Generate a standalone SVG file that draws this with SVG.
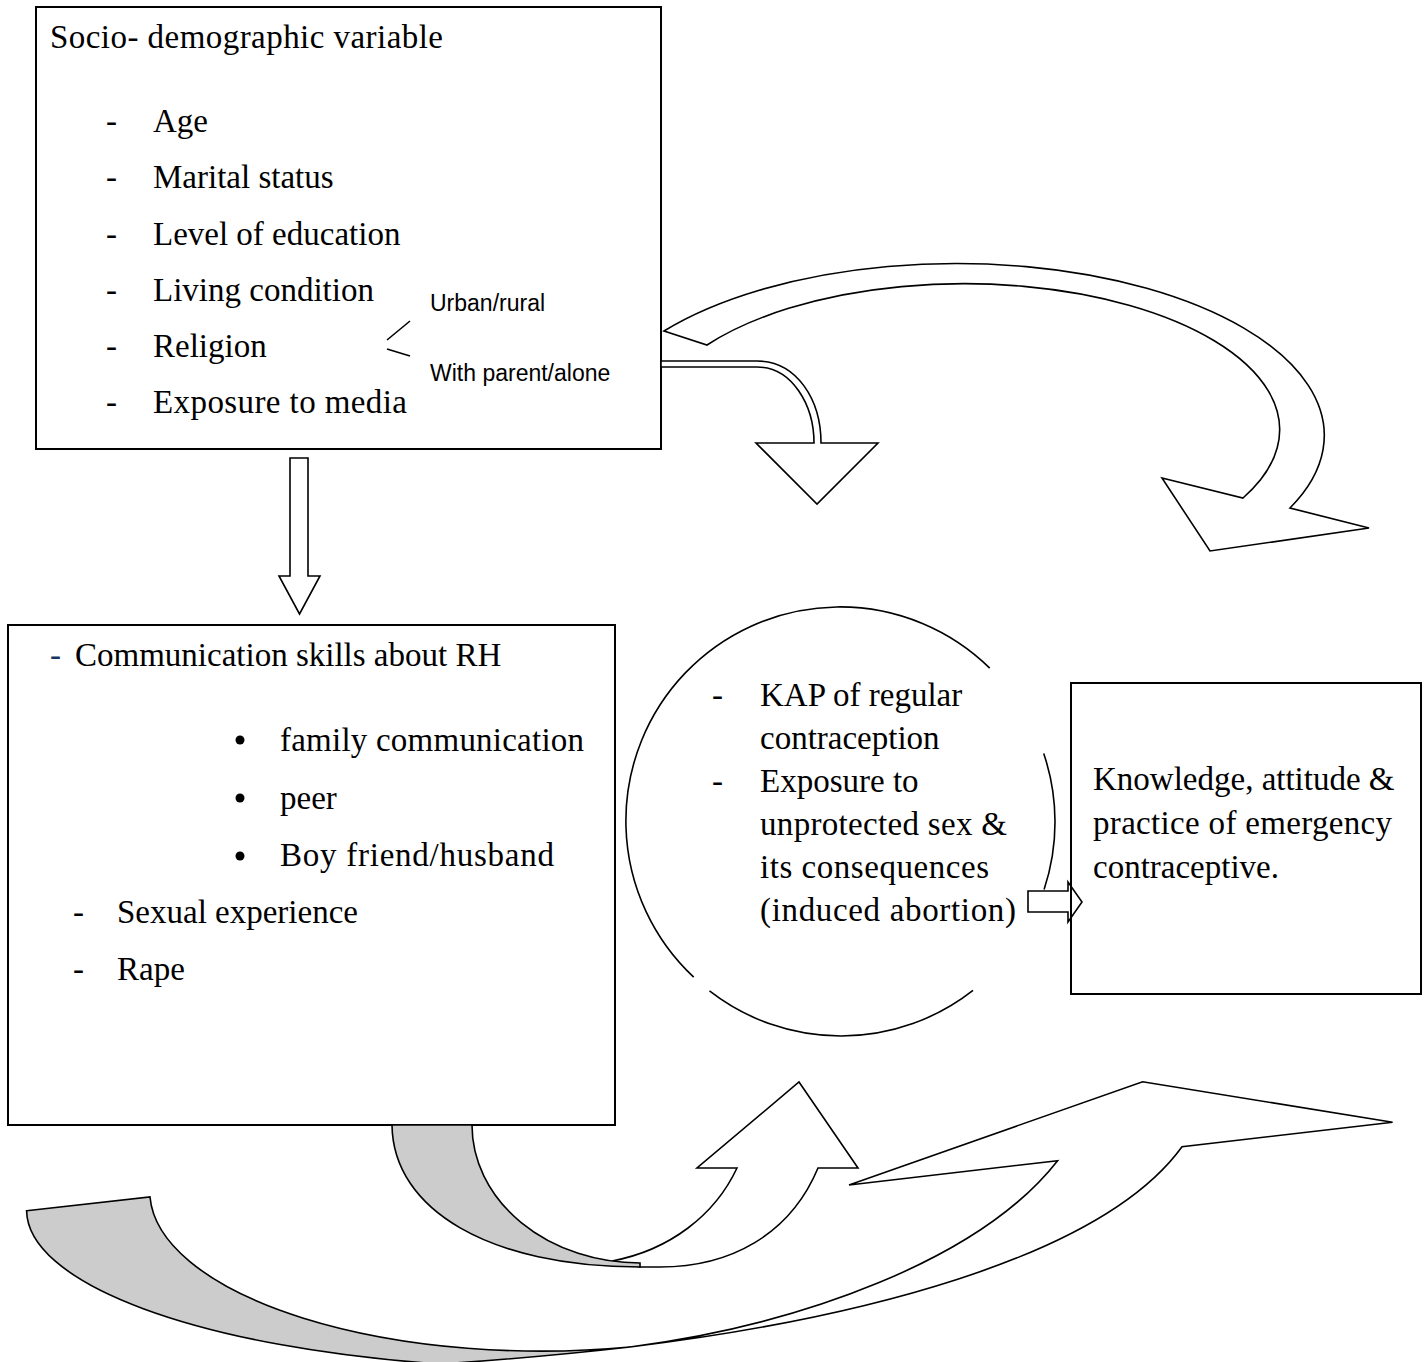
<svg xmlns="http://www.w3.org/2000/svg" width="1427" height="1362" viewBox="0 0 1427 1362">
<style>
.box{fill:#fff;stroke:#000;stroke-width:2}
.sh{fill:#fff;stroke:#000;stroke-width:1.6;stroke-linejoin:miter}
.op{fill:none;stroke:#000;stroke-width:1.6;stroke-linejoin:miter}
.gr{fill:#cccccc;stroke:#000;stroke-width:1.6}
.ln{fill:none;stroke:#000;stroke-width:1.6}
.t{font-family:"Liberation Serif","Times New Roman",serif;font-size:33px;fill:#000}
.s{font-family:"Liberation Sans",Arial,sans-serif;font-size:23px;fill:#000}
</style>
<rect width="1427" height="1362" fill="#fff"/>
<g id="socio">
  <rect class="box" x="36" y="7" width="625" height="442"/>
  <text class="t" x="50" y="48" textLength="393" lengthAdjust="spacing">Socio- demographic variable</text>
  <text class="t" x="106" y="132">-</text><text class="t" x="153" y="132">Age</text>
  <text class="t" x="106" y="188">-</text><text class="t" x="153" y="188">Marital status</text>
  <text class="t" x="106" y="245">-</text><text class="t" x="153" y="245">Level of education</text>
  <text class="t" x="106" y="301">-</text><text class="t" x="153" y="301">Living condition</text>
  <text class="t" x="106" y="357">-</text><text class="t" x="153" y="357">Religion</text>
  <text class="t" x="106" y="413">-</text><text class="t" x="153" y="413" textLength="254" lengthAdjust="spacing">Exposure to media</text>
  <line class="ln" x1="387" y1="340" x2="410" y2="321"/>
  <line class="ln" x1="387" y1="349" x2="410" y2="356"/>
  <text class="s" x="430" y="311">Urban/rural</text>
  <text class="s" x="430" y="381">With parent/alone</text>
</g>
<g id="communication">
  <rect class="box" x="8" y="625" width="607" height="500"/>
  <text class="t" x="50" y="666" style="fill:#17365d">-</text>
  <text class="t" x="75" y="666">Communication skills about RH</text>
  <circle cx="240" cy="740" r="4.5" fill="#000"/>
  <text class="t" x="280" y="751" textLength="304" lengthAdjust="spacing">family communication</text>
  <circle cx="240" cy="798" r="4.5" fill="#000"/>
  <text class="t" x="280" y="809">peer</text>
  <circle cx="240" cy="856" r="4.5" fill="#000"/>
  <text class="t" x="280" y="866" textLength="274" lengthAdjust="spacing">Boy friend/husband</text>
  <text class="t" x="73" y="923">-</text><text class="t" x="117" y="923">Sexual experience</text>
  <text class="t" x="73" y="980">-</text><text class="t" x="117" y="980">Rape</text>
</g>
<g id="kap">
  <path class="ln" d="M989.7,668.1 A214,214 0 1 0 693.7,977.2"/>
  <path class="ln" d="M1043.7,753.4 A214,214 0 0 1 1044.1,889.5"/>
  <path class="ln" d="M973,990.4 A214,214 0 0 1 709.5,990.9"/>
  <text class="t" x="712" y="706">-</text><text class="t" x="760" y="706">KAP of regular</text>
  <text class="t" x="760" y="749">contraception</text>
  <text class="t" x="712" y="792">-</text><text class="t" x="760" y="792">Exposure to</text>
  <text class="t" x="760" y="835" textLength="247" lengthAdjust="spacing">unprotected sex &amp;</text>
  <text class="t" x="760" y="878" textLength="229" lengthAdjust="spacing">its consequences</text>
  <text class="t" x="760" y="921" textLength="256" lengthAdjust="spacing">(induced abortion)</text>
</g>
<g id="outcome">
  <rect class="box" x="1071" y="683" width="350" height="311"/>
  <text class="t" x="1093" y="790">Knowledge, attitude &amp;</text>
  <text class="t" x="1093" y="834" textLength="299" lengthAdjust="spacing">practice of emergency</text>
  <text class="t" x="1093" y="878">contraceptive.</text>
</g>
<g id="connectors">
  <path class="sh" d="M630,1347 C800,1325 980,1260 1057.6,1160.7 L849,1185 L1142.6,1081.7 L1392.6,1122.3 L1182,1146.7 C1100,1260 850,1320 630,1347 Z"/>
  <path class="gr" d="M26.6,1210.7 L150,1197 A392,160 0 0 0 630,1347 C560,1355 500,1360 440,1364 A533,158 0 0 1 26.6,1210.7 Z"/>
  <path class="sh" d="M612,1261 C670,1250 715,1215 737,1168 L697,1168 L799,1082 L858,1168 L818,1168 C790,1235 730,1267 660,1267 L640,1267 Z"/>
  <path class="gr" d="M392,1125 C393,1210 490,1267 640,1267 L640,1263 A168,138 0 0 1 472,1125 Z"/>
  <path class="sh" d="M290,458 H308 V576 H320 L299.5,614 L279,576 H290 Z"/>
  <path class="sh" d="M661,361 H757 C797,361 821,400 821,443 H878 L817,504 L756,443 H814 C814,405 792,367 757,367 H661 Z"/>
  <path class="sh" d="M664,331 A368,172 0 0 1 1290,508 L1369,528 L1210,551 L1162,478 L1243,498 A315.6,146 0 0 0 707,345 Z"/>
  <path class="op" d="M1028,891 H1068 V882 L1082,902 L1068,922 V912 H1028 Z"/>
</g>
</svg>
